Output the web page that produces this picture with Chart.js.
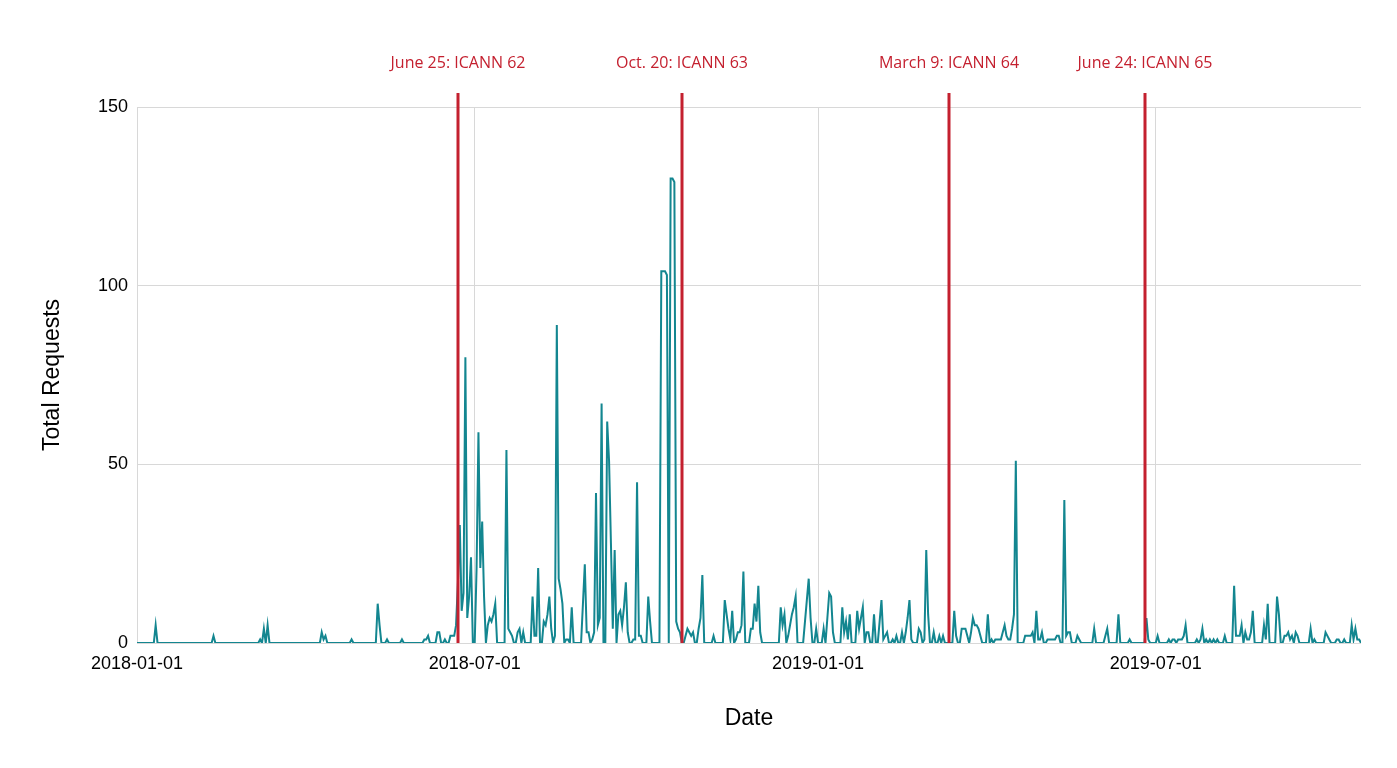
<!DOCTYPE html>
<html>
<head>
<meta charset="utf-8">
<title>Total Requests</title>
<script src="https://cdn.jsdelivr.net/npm/chart.js@4.4.1/dist/chart.umd.min.js"></script>
<style>
  body { margin: 0; background: #fff; }
  canvas { display: block; }
</style>
</head>
<body>
<canvas id="myChart" width="1397" height="768"></canvas>
<script>
// day offsets from 2018-01-01 (zero anchors included)
var days = [
  0, 9, 10, 11, 40, 41, 42, 65, 66, 67, 68, 69, 70, 71,
  98, 99, 100, 101, 102, 114, 115, 116, 128, 129, 130, 131, 133, 134, 135, 141, 142, 143,
  153, 154, 155, 156, 157, 160, 161, 162, 163, 164, 165, 166, 167, 168, 169, 170,
  171, 172, 173, 174, 175, 176, 177, 178, 179, 180, 181, 182, 183, 184, 185, 186, 187,
  188, 189, 190, 191, 192, 193, 197, 198, 199, 200, 201, 202, 203, 204, 205, 206, 207, 208,
  211, 212, 213, 214, 215, 216, 217, 218, 219, 220, 221, 222, 223, 224, 225, 226, 227, 228,
  229, 230, 231, 232, 233, 234, 238, 239, 240, 241, 242, 243, 244, 245, 246, 247, 248, 249,
  250, 251, 252, 253, 254, 255, 256, 257, 258, 259, 260, 261, 262, 263, 264, 265, 266, 267,
  268, 269, 270, 271, 273, 274, 275, 276, 280, 281, 282, 283, 284, 285, 286, 287, 288, 289,
  290, 291, 292, 293, 294, 295, 296, 297, 298, 299, 300, 301, 302, 303, 304, 308, 309, 310,
  314, 315, 316, 317, 318, 319, 320, 321, 322, 323, 324, 325, 326, 328, 329, 330, 331, 332,
  333, 334, 335, 344, 345, 346, 347, 348, 349, 350, 351, 352, 353, 354, 357, 358, 359, 360,
  361, 362, 363, 364, 365, 367, 368, 369, 370, 371, 372, 373, 374, 377, 378, 379, 380, 381,
  382, 383, 385, 386, 387, 388, 389, 390, 391, 392, 393, 394, 395, 396, 397, 398, 399, 400,
  401, 402, 403, 404, 405, 406, 407, 408, 409, 410, 411, 412, 413, 414, 415, 416, 418, 419,
  420, 421, 422, 423, 424, 425, 426, 427, 428, 429, 430, 431, 432, 433, 437, 438, 439, 440,
  441, 442, 443, 444, 445, 446, 447, 448, 449, 450, 451, 452, 453, 455, 456, 457, 458, 459,
  460, 461, 462, 463, 464, 465, 466, 467, 468, 469, 470, 471, 472, 475, 476, 477, 478, 479,
  480, 481, 482, 483, 484, 485, 486, 487, 488, 489, 490, 491, 492, 493, 494, 495, 496, 497,
  498, 499, 500, 501, 503, 504, 505, 506, 512, 513, 514, 518, 519, 520, 521, 525, 526, 527,
  531, 532, 533, 540, 541, 542, 543, 546, 547, 548, 552, 553, 554, 555, 556, 557, 558, 559,
  560, 561, 562, 563, 567, 568, 569, 570, 571, 572, 573, 574, 575, 576, 577, 578, 579, 580,
  582, 583, 584, 587, 588, 589, 590, 591, 592, 593, 594, 595, 596, 597, 598, 599, 603, 604,
  605, 606, 607, 610, 611, 612, 613, 614, 615, 616, 617, 618, 619, 620, 621, 622, 623, 628,
  629, 630, 631, 632, 636, 637, 638, 639, 640, 642, 643, 644, 645, 646, 647, 648, 650, 651,
  652, 653, 654, 655, 656
]
var requests = [
  0, 0, 5, 0, 0, 2, 0, 0, 1, 0, 4, 0, 5, 0,
  0, 3, 1, 2, 0, 0, 1, 0, 0, 11, 5, 0, 0, 1, 0, 0, 1, 0,
  0, 1, 1, 2, 0, 0, 3, 3, 0, 0, 1, 0, 0, 2, 2, 2,
  5, 17, 33, 9, 14, 80, 7, 13, 24, 0, 0, 21, 59, 21, 34, 13, 0,
  5, 7, 6, 8, 11, 0, 0, 54, 4, 3, 2, 0, 0, 3, 4, 0, 3, 0,
  0, 13, 2, 2, 21, 0, 0, 6, 5, 8, 13, 4, 0, 2, 89, 18, 15, 11,
  0, 1, 1, 0, 10, 0, 0, 11, 22, 3, 3, 0, 1, 3, 42, 5, 7, 67,
  0, 0, 62, 51, 28, 4, 26, 0, 8, 9, 5, 10, 17, 3, 0, 0, 1, 1,
  45, 2, 2, 0, 0, 13, 6, 0, 0, 104, 104, 104, 103, 0, 130, 130, 129, 6,
  4, 3, 0, 0, 2, 4, 3, 2, 3, 0, 0, 4, 7, 19, 0, 0, 2, 0,
  0, 12, 8, 4, 1, 9, 0, 1, 3, 3, 5, 20, 0, 0, 4, 4, 11, 6,
  16, 3, 0, 0, 10, 5, 8, 0, 2, 5, 8, 10, 13, 0, 0, 6, 12, 18,
  7, 0, 0, 4, 0, 0, 4, 0, 7, 14, 13, 3, 0, 0, 10, 3, 6, 1,
  8, 0, 0, 9, 4, 7, 10, 0, 3, 3, 0, 0, 8, 0, 0, 6, 12, 1,
  2, 3, 0, 0, 1, 0, 2, 0, 0, 3, 0, 3, 7, 12, 1, 0, 0, 4,
  3, 0, 1, 26, 8, 0, 0, 3, 0, 0, 2, 0, 2, 0, 0, 9, 2, 0,
  0, 4, 4, 4, 2, 0, 3, 7, 5, 5, 4, 2, 0, 0, 8, 0, 1, 0,
  1, 1, 1, 1, 3, 5, 2, 1, 1, 4, 8, 51, 0, 0, 2, 2, 2, 2,
  3, 0, 9, 1, 1, 3, 0, 0, 1, 1, 1, 1, 1, 2, 2, 0, 0, 40,
  2, 3, 3, 0, 0, 2, 1, 0, 0, 4, 0, 0, 2, 4, 0, 0, 8, 0,
  0, 1, 0, 0, 7, 1, 0, 0, 2, 0, 0, 1, 0, 1, 1, 0, 1, 1,
  1, 2, 5, 0, 0, 1, 0, 1, 4, 0, 1, 0, 1, 0, 1, 0, 1, 0,
  0, 2, 0, 0, 16, 2, 2, 2, 5, 0, 3, 1, 1, 3, 9, 0, 0, 5,
  1, 11, 0, 0, 13, 8, 0, 0, 2, 2, 3, 1, 2, 0, 3, 2, 0, 0,
  4, 0, 1, 0, 0, 3, 2, 1, 0, 0, 1, 1, 0, 0, 1, 0, 0, 5,
  1, 4, 1, 1, 0
]

var tickDays = [0, 181, 365, 546]
var tickLabels = ['2018-01-01', '2018-07-01', '2019-01-01', '2019-07-01']

var eventDays = [172, 292, 435, 540]
var eventLabels = ['June 25: ICANN 62', 'Oct. 20: ICANN 63', 'March 9: ICANN 64', 'June 24: ICANN 65']

var teal = '#138690'
var red = '#c4202f'
var gridColor = '#d8d8d8'
var tickFont = { family: '"Liberation Sans", Arial, sans-serif', size: 18 }
var titleFont = { family: '"Liberation Sans", Arial, sans-serif', size: 23 }

var points = days.map(function (d, i) {
  return { x: d, y: requests[i] }
})

// red event markers with their captions above the plot
const eventLines = {
  id: 'eventLines',
  afterDatasetsDraw(chart) {
    const ctx = chart.ctx
    const x = chart.scales.x
    const area = chart.chartArea
    ctx.save()
    eventDays.forEach(function (d, i) {
      const px = Math.round(x.getPixelForValue(d))
      ctx.strokeStyle = red
      ctx.lineWidth = 3
      ctx.beginPath()
      ctx.moveTo(px, area.top - 14)
      ctx.lineTo(px, area.bottom)
      ctx.stroke()
      ctx.fillStyle = red
      ctx.font = '16px "Open Sans", sans-serif'
      ctx.textAlign = 'center'
      ctx.textBaseline = 'middle'
      ctx.fillText(eventLabels[i], px, area.top - 44)
    })
    ctx.restore()
  },
}

new Chart('myChart', {
  type: 'line',
  data: {
    datasets: [
      {
        data: points,
        borderColor: teal,
        borderWidth: 2,
        pointRadius: 0,
        tension: 0,
        fill: false,
      },
    ],
  },
  options: {
    responsive: false,
    animation: false,
    layout: { padding: { top: 107, right: 36, left: 0, bottom: 0 } },
    plugins: {
      legend: { display: false },
      tooltip: { enabled: false },
    },
    scales: {
      x: {
        type: 'linear',
        min: 0,
        max: 656,
        afterBuildTicks: function (scale) {
          scale.ticks = tickDays.map(function (v) {
            return { value: v }
          })
        },
        afterFit: function (scale) {
          scale.height = 125
        },
        grid: { color: gridColor, drawTicks: false },
        border: { display: false },
        ticks: {
          autoSkip: false,
          maxRotation: 0,
          padding: 10,
          color: '#000',
          font: tickFont,
          callback: function (v) {
            return tickLabels[tickDays.indexOf(v)]
          },
        },
        title: {
          display: true,
          text: 'Date',
          color: '#000',
          font: titleFont,
          padding: { bottom: 36 },
        },
      },
      y: {
        min: 0,
        max: 150,
        afterFit: function (scale) {
          scale.width = 137
        },
        grid: { color: gridColor, drawTicks: false },
        border: { display: false },
        ticks: {
          stepSize: 50,
          padding: 9,
          color: '#000',
          font: tickFont,
        },
        title: {
          display: true,
          text: 'Total Requests',
          color: '#000',
          font: titleFont,
          padding: { top: 39 },
        },
      },
    },
  },
  plugins: [eventLines],
})
</script>
</body>
</html>
